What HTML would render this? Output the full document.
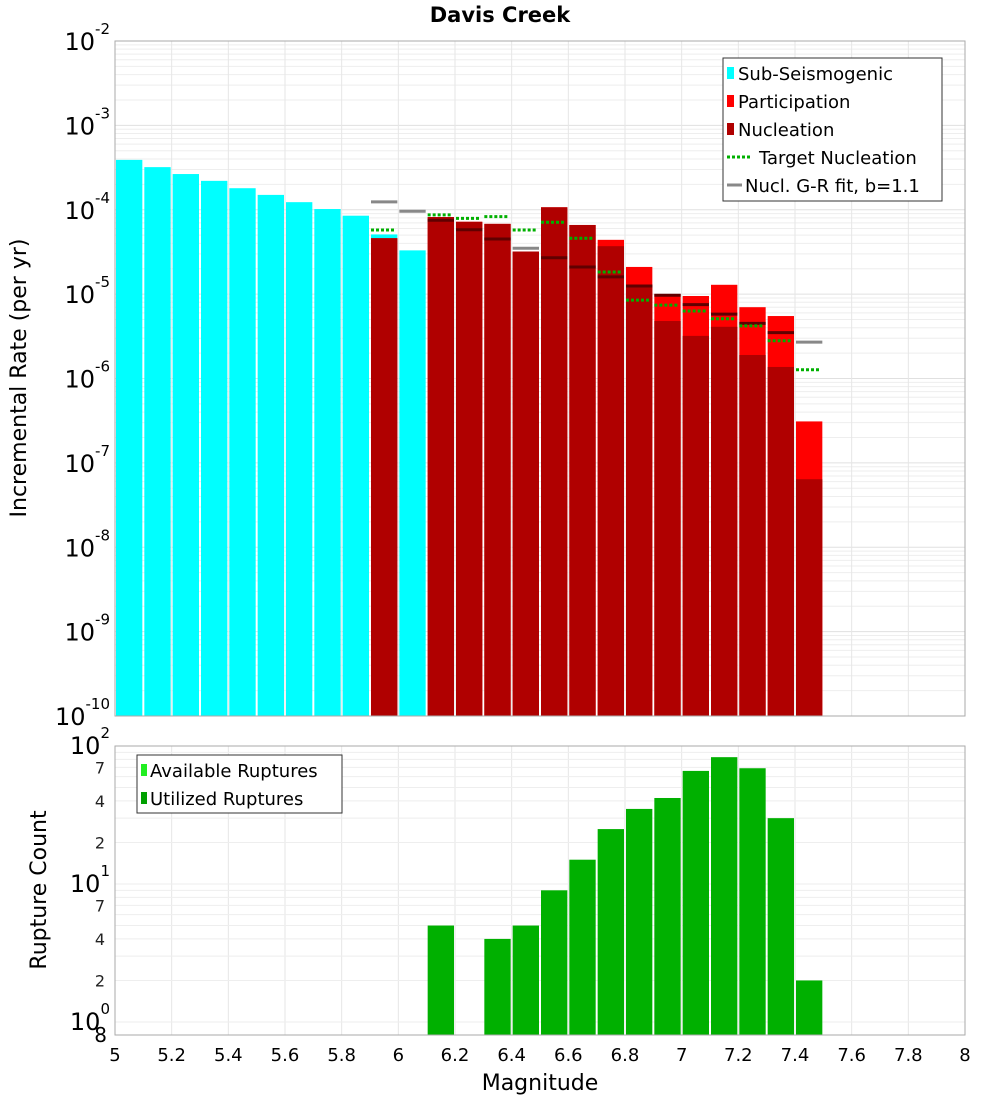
<!DOCTYPE html>
<html><head><meta charset="utf-8"><style>
body{margin:0;background:#fff;font-family:"Liberation Sans","DejaVu Sans",sans-serif}
svg text{font-family:"DejaVu Sans","Liberation Sans",sans-serif}
</style></head><body>
<svg id="c" width="1000" height="1100" xmlns="http://www.w3.org/2000/svg">
<rect width="1000" height="1100" fill="#fff"/>
<text x="500" y="22" text-anchor="middle" font-size="21" font-weight="bold">Davis Creek</text>
<g id="topg"></g><g id="botg"></g>
<text transform="translate(26,378) rotate(-90)" text-anchor="middle" font-size="22">Incremental Rate (per yr)</text>
<text transform="translate(46,890) rotate(-90)" text-anchor="middle" font-size="22">Rupture Count</text>
<text x="540" y="1090" text-anchor="middle" font-size="22">Magnitude</text>
</svg>
<script>
const subMags=[5.05,5.15,5.25,5.35,5.45,5.55,5.65,5.75,5.85,5.95,6.05];
const subVals=[3.9e-4,3.2e-4,2.65e-4,2.2e-4,1.8e-4,1.5e-4,1.23e-4,1.02e-4,8.5e-5,5.1e-5,3.3e-5];
const supMags=[5.95,6.05,6.15,6.25,6.35,6.45,6.55,6.65,6.75,6.85,6.95,7.05,7.15,7.25,7.35,7.45];
const partVals=[4.6e-5,null,8.2e-5,7.2e-5,6.8e-5,3.2e-5,1.07e-4,6.6e-5,4.4e-5,2.1e-5,1.0e-5,9.5e-6,1.29e-5,7.0e-6,5.5e-6,3.1e-7];
const nuclVals=[4.6e-5,null,8.2e-5,7.2e-5,6.8e-5,3.2e-5,1.07e-4,6.6e-5,3.7e-5,1.3e-5,4.8e-6,3.2e-6,4.1e-6,1.9e-6,1.37e-6,6.4e-8];
const targetVals=[5.75e-5,null,8.7e-5,7.9e-5,8.3e-5,5.75e-5,7.1e-5,4.6e-5,1.83e-5,8.5e-6,7.4e-6,6.3e-6,5.1e-6,4.2e-6,2.8e-6,1.27e-6];
const grVals=[1.24e-4,9.6e-5,7.5e-5,5.8e-5,4.5e-5,3.5e-5,2.7e-5,2.1e-5,1.6e-5,1.25e-5,9.7e-6,7.5e-6,5.8e-6,4.5e-6,3.5e-6,2.7e-6];
const cntMags=[6.15,6.35,6.45,6.55,6.65,6.75,6.85,6.95,7.05,7.15,7.25,7.35,7.45];
const cntVals=[5,4,5,9,15,25,35,42,66,83,69,30,2];
const xTicks=[5,5.2,5.4,5.6,5.8,6,6.2,6.4,6.6,6.8,7,7.2,7.4,7.6,7.8,8];
const topExps=[-2,-3,-4,-5,-6,-7,-8,-9,-10];
const botMinor=[2,4,7,20,40,70];

const NS="http://www.w3.org/2000/svg";
const X0=115,X1=965;
const xs=m=>X0+(m-5)/3*(X1-X0);
const T0=41,T1=716;
const yt=v=>T0+(-2-Math.log10(v))*(T1-T0)/8;
const B0=746,B1=1035;
const yb=v=>B0+(2-Math.log10(v))*138;
function el(p,t,a,txt){const e=document.createElementNS(NS,t);for(const k in a)e.setAttribute(k,a[k]);if(txt!==undefined)e.textContent=txt;p.appendChild(e);return e;}
const topG=document.getElementById('topg'),botG=document.getElementById('botg');
const bw=(X1-X0)/30;

for(let d=-10;d<-2;d++)for(let k=1;k<10;k++){const y=yt(k*Math.pow(10,d));
 const g=el(topG,'line',{x1:X0,x2:X1,y1:y,y2:y,stroke:k==1?'#e0e0e0':'#eeeeee','stroke-width':1});
 
 }
xTicks.forEach(t=>{const g=el(topG,'line',{x1:xs(t),x2:xs(t),y1:T0,y2:T1,stroke:'#e6e6e6'});
 
 
 const h=el(botG,'line',{x1:xs(t),x2:xs(t),y1:B0,y2:B1,stroke:'#e6e6e6'});
 
 });
[1,2,3,4,5,6,7,8,9,10,20,30,40,50,60,70,80,90,100].forEach(v=>{const y=yb(v);if(y>B1)return;const g=el(botG,'line',{x1:X0,x2:X1,y1:y,y2:y,stroke:'#eeeeee'});
 
 });

subMags.forEach((m,i)=>{const y=yt(subVals[i]);const r=el(topG,'rect',{x:xs(m)-bw/2+1,y:y,width:bw-2,height:T1-y,fill:'#00ffff'});
 
 });
supMags.forEach((m,i)=>{if(partVals[i]==null)return;
 let y=yt(partVals[i]);const r=el(topG,'rect',{x:xs(m)-bw/2+1,y:y,width:bw-2,height:T1-y,fill:'#ff0000'});
 
 
 y=yt(nuclVals[i]);const n=el(topG,'rect',{x:xs(m)-bw/2+1,y:y,width:bw-2,height:T1-y,fill:'#b00000'});
 
 });
supMags.forEach((m,i)=>{const v=grVals[i];const inside=partVals[i]!=null&&v<partVals[i];
 const y=yt(v);const l=el(topG,'line',{x1:xs(m)-bw/2+1,x2:xs(m)+bw/2-1,y1:y,y2:y,stroke:inside?'#600000':'#888888','stroke-width':3});
 
 });
supMags.forEach((m,i)=>{if(targetVals[i]==null)return;const y=yt(targetVals[i]);
 const l=el(topG,'line',{x1:xs(m)-bw/2+1,x2:xs(m)+bw/2-4,y1:y,y2:y,stroke:'#00b000','stroke-width':3,'stroke-dasharray':'3,2'});
 
 });
const f1=el(topG,'rect',{x:X0,y:T0,width:X1-X0,height:T1-T0,fill:'none',stroke:'#aaa'});


topExps.forEach(e=>{const y=yt(Math.pow(10,e));
 const t=el(topG,'text',{x:110,y:y+9,'text-anchor':'end','font-size':24});
 
 
 t.appendChild(document.createTextNode('10'));el(t,'tspan',{dy:-16,'font-size':15},String(e));});

cntMags.forEach((m,i)=>{const y=yb(cntVals[i]);const r=el(botG,'rect',{x:xs(m)-bw/2+1,y:y,width:bw-2,height:B1-y,fill:'#00b000'});
 
 });
const f2=el(botG,'rect',{x:X0,y:B0,width:X1-X0,height:B1-B0,fill:'none',stroke:'#aaa'});


[[2,'2'],[1,'1'],[0,'0']].forEach(([e,s])=>{const y=yb(Math.pow(10,e));
 const t=el(botG,'text',{x:110,y:y+8,'text-anchor':'end','font-size':24});
 
 
 t.appendChild(document.createTextNode('10'));el(t,'tspan',{dy:-16,'font-size':15},s);});
botMinor.forEach(v=>{const t=el(botG,'text',{x:105,y:yb(v)+6,'text-anchor':'end','font-size':16,fill:'#222'},String(v)[0]);
 
 });
{const t=el(botG,'text',{x:107,y:1042,'text-anchor':'end','font-size':20},'8');
 
 }
xTicks.forEach(v=>{const t=el(botG,'text',{x:xs(v),y:1061,'text-anchor':'middle','font-size':18},String(v));
 
 });

const lg=el(topG,'g',{});


el(lg,'rect',{x:723,y:58,width:219,height:143,fill:'#fff',stroke:'#333'});
[['Sub-Seismogenic','#00ffff','box'],['Participation','#ff0000','box'],['Nucleation','#b00000','box'],['Target Nucleation','#00b000','dash'],['Nucl. G-R fit, b=1.1','#888','line']].forEach((it,i)=>{
 const y=73+i*28;const g=el(lg,'g',{});
 
 
 if(it[2]=='box')el(g,'rect',{x:727,y:y-6,width:7,height:12,fill:it[1]});
 else if(it[2]=='dash')el(g,'line',{x1:727,x2:752,y1:y,y2:y,stroke:it[1],'stroke-width':3,'stroke-dasharray':'3,2'});
 else el(g,'line',{x1:727,x2:742,y1:y,y2:y,stroke:it[1],'stroke-width':3});
 el(g,'text',{x:it[2]=='dash'?759:(it[2]=='line'?745:738),y:y+7,'font-size':18},it[0]);});
const lb=el(botG,'g',{});


el(lb,'rect',{x:137,y:755,width:205,height:58,fill:'#fff',stroke:'#333'});
[['Available Ruptures','#22ee22'],['Utilized Ruptures','#00a000']].forEach((it,i)=>{const y=770+i*28;const g=el(lb,'g',{});
 
 
 el(g,'rect',{x:141,y:y-6,width:6,height:12,fill:it[1]});el(g,'text',{x:150,y:y+7,'font-size':18},it[0]);});
</script>
</body></html>
